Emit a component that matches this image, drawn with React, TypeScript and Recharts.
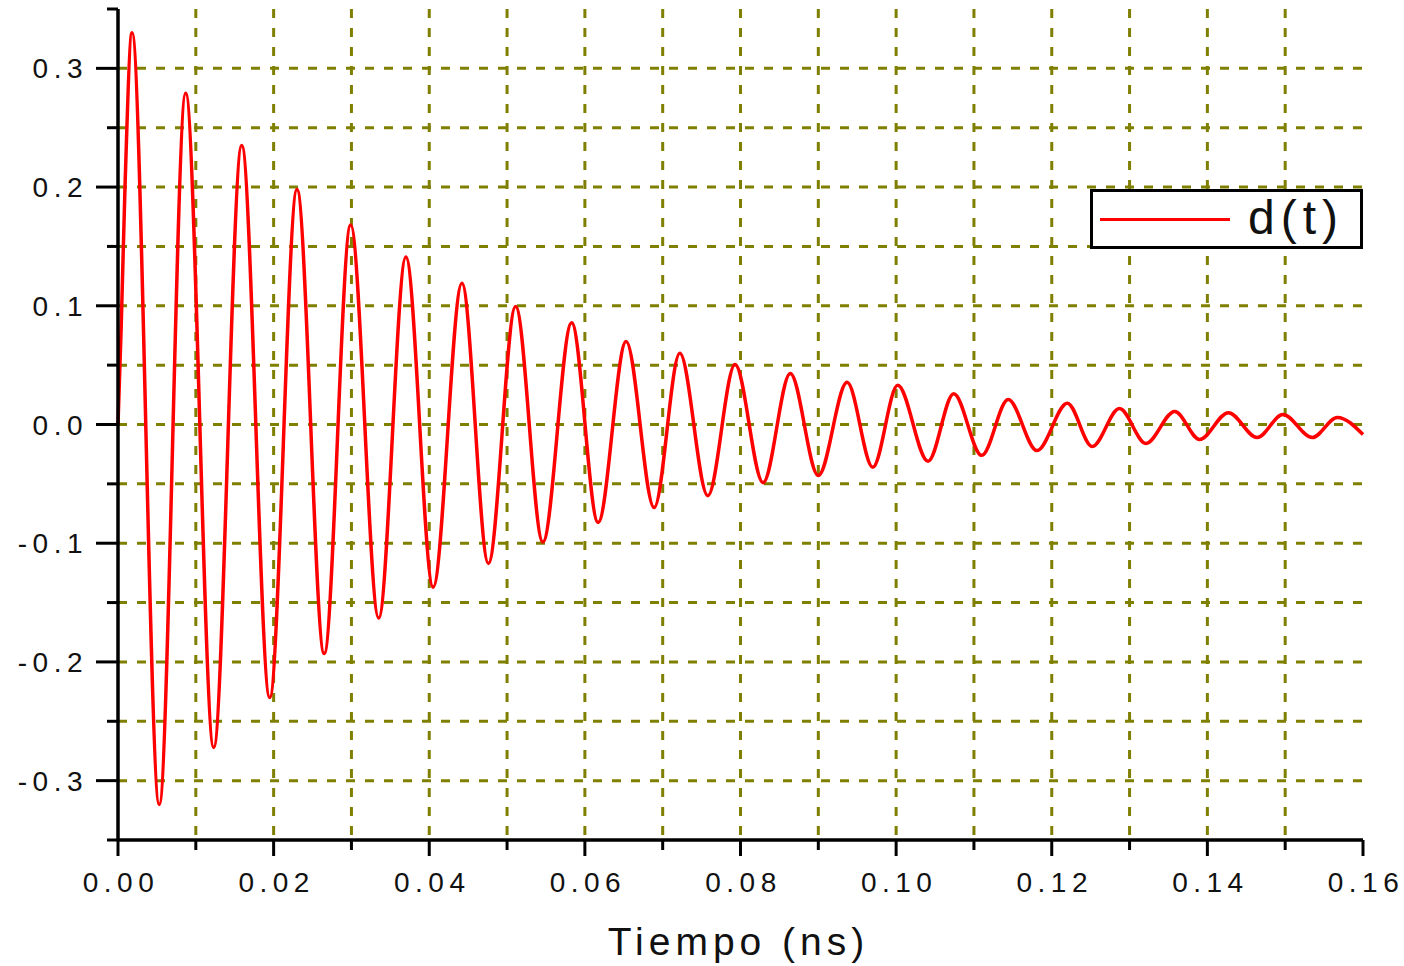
import { LineChart, Line, XAxis, YAxis, CartesianGrid, Legend, Label } from "recharts";

// time (ns) of each turning point
const times = [
	0, 0.0004, 0.0009, 0.0018, 0.0053, 0.0087, 0.0123, 0.0159, 0.0195, 0.023, 0.0265, 0.0299,
	0.0335, 0.037, 0.0405, 0.0442, 0.0476, 0.0511, 0.0546, 0.0583, 0.0617, 0.0653, 0.0689,
	0.0722, 0.0758, 0.0793, 0.0829, 0.0864, 0.09, 0.0937, 0.097, 0.1002, 0.1041, 0.1074, 0.111,
	0.1144, 0.1181, 0.122, 0.1252, 0.1287, 0.1321, 0.1358, 0.139, 0.1427, 0.1464, 0.1497,
	0.1535, 0.1567, 0.16,
];
const dValues = [
	0, 0.08, 0.2, 0.33, -0.32, 0.279, -0.272, 0.235, -0.23, 0.198, -0.193, 0.168, -0.163, 0.141,
	-0.137, 0.119, -0.117, 0.0995, -0.099, 0.0857, -0.0825, 0.07, -0.07, 0.06, -0.06, 0.0505,
	-0.049, 0.043, -0.043, 0.0355, -0.036, 0.033, -0.031, 0.026, -0.026, 0.021, -0.022, 0.018,
	-0.0185, 0.0135, -0.016, 0.011, -0.0126, 0.01, -0.011, 0.0084, -0.011, 0.006, -0.0085,
];
const xTicks = [
	0, 0.01, 0.02, 0.03, 0.04, 0.05, 0.06, 0.07, 0.08, 0.09, 0.1, 0.11, 0.12, 0.13, 0.14, 0.15, 0.16,
];
const yTicks = [
	-0.35, -0.3, -0.25, -0.2, -0.15, -0.1, -0.05, 0, 0.05, 0.1, 0.15, 0.2, 0.25, 0.3, 0.35,
];
const gridX = xTicks.slice(1, -1);
const gridY = [-0.3, -0.25, -0.2, -0.15, -0.1, -0.05, 0, 0.05, 0.1, 0.15, 0.2, 0.25, 0.3];

const data = times.map((t, i) => ({ t, d: dValues[i] }));

const FONT = "'Liberation Sans', Arial, sans-serif";
const TEXT = "#111";

const XTick = (props: any) => {
	const { x, y, payload, index } = props;
	const major = index % 2 === 0;
	return (
		<g>
			<line x1={x} y1={y} x2={x} y2={y + (major ? 16 : 10)} stroke='#000' strokeWidth={3} />
			{major && (
				<text
					x={x + 3}
					y={y + 52}
					textAnchor='middle'
					fontFamily={FONT}
					fontSize={28}
					letterSpacing={5.5}
					fill={TEXT}>
					{payload.value.toFixed(2)}
				</text>
			)}
		</g>
	);
};

const YTick = (props: any) => {
	const { x, y, payload } = props;
	const major = Math.round(payload.value * 100) % 10 === 0;
	return (
		<g>
			<line x1={x} y1={y} x2={x - (major ? 22 : 11)} y2={y} stroke='#000' strokeWidth={3} />
			{major && (
				<text
					x={x - 30}
					y={y + 10}
					textAnchor='end'
					fontFamily={FONT}
					fontSize={28}
					letterSpacing={5.5}
					fill={TEXT}>
					{payload.value.toFixed(1)}
				</text>
			)}
		</g>
	);
};

const AxisTitle = (props: any) => {
	const { viewBox } = props;
	return (
		<text
			x={viewBox.x + viewBox.width / 2 - 2}
			y={viewBox.y + 115}
			textAnchor='middle'
			fontFamily={FONT}
			fontSize={39}
			letterSpacing={5}
			fill={TEXT}>
			Tiempo (ns)
		</text>
	);
};

const LegendBox = () => (
	<div
		style={{
			position: "relative",
			width: 273,
			height: 60,
			boxSizing: "border-box",
			border: "3px solid #000",
			background: "#fff",
		}}>
		<div
			style={{
				position: "absolute",
				left: 7,
				top: 26,
				width: 130,
				height: 3,
				background: "#ff0000",
			}}
		/>
		<span
			style={{
				position: "absolute",
				left: 155,
				top: -2,
				fontFamily: FONT,
				fontSize: 48,
				letterSpacing: 6,
				lineHeight: "56px",
				color: TEXT,
			}}>
			d(t)
		</span>
	</div>
);

export default function App() {
	return (
		<div style={{ position: "absolute", left: 0, top: 0, width: 1404, height: 966, background: "#fff" }}>
			<LineChart
				width={1404}
				height={966}
				data={data}
				margin={{ top: 9, right: 41, left: 18, bottom: 0 }}>
				<CartesianGrid
					stroke='#808000'
					strokeWidth={3}
					strokeDasharray='9 10'
					verticalValues={gridX}
					horizontalValues={gridY}
				/>
				<XAxis
					dataKey='t'
					type='number'
					domain={[0, 0.16]}
					ticks={xTicks}
					interval={0}
					height={126}
					tickSize={0}
					tickMargin={0}
					tickLine={false}
					axisLine={{ stroke: "#000", strokeWidth: 3.5 }}
					tick={<XTick />}>
					<Label content={<AxisTitle />} />
				</XAxis>
				<YAxis
					type='number'
					domain={[-0.35, 0.35]}
					ticks={yTicks}
					interval={0}
					width={100}
					tickSize={0}
					tickMargin={0}
					tickLine={false}
					axisLine={{ stroke: "#000", strokeWidth: 3.5 }}
					tick={<YTick />}
				/>
				<Legend
					layout='vertical'
					align='center'
					verticalAlign='middle'
					content={<LegendBox />}
					wrapperStyle={{ left: 1090, top: 189, width: 273, height: 60 }}
				/>
				<Line
					type='monotone'
					dataKey='d'
					stroke='#ff0000'
					strokeWidth={3.5}
					dot={false}
					isAnimationActive={false}
				/>
			</LineChart>
		</div>
	);
}
